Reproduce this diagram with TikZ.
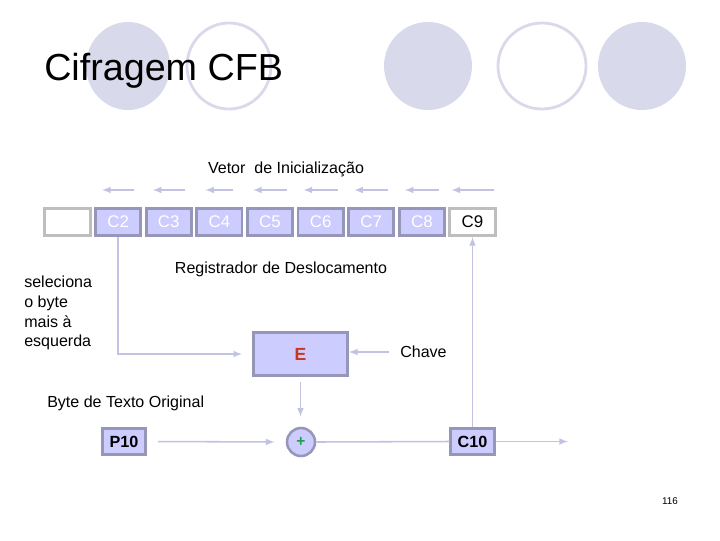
\documentclass[tikz,border=0pt]{standalone}
\usepackage{fontspec}
\setmainfont{Liberation Sans}
\usetikzlibrary{calc,positioning,arrows}
\definecolor{lavfill}{HTML}{CCCCFF}
\definecolor{lavline}{HTML}{9696B9}
\definecolor{decofill}{HTML}{D9D9EC}
\definecolor{flowcol}{HTML}{C2C2E2}
\definecolor{grayline}{HTML}{BEBEBE}
\definecolor{ered}{HTML}{C8371E}
\definecolor{pgreen}{HTML}{1EA050}
\tikzset{
		reg/.style={draw=lavline,fill=lavfill,line width=2pt,minimum width=1.13cm,
			minimum height=0.68cm,inner sep=0pt,text=white,font=\fontsize{12}{14}\selectfont},
		regw/.style={reg,draw=grayline,fill=white,text=black},
		byteb/.style={reg,minimum width=1.08cm,minimum height=0.66cm,text=black,
			font=\fontsize{11.5}{14}\selectfont\bfseries},
		flow/.style={draw=flowcol,line width=1.1pt,-latex},
		lbl/.style={inner sep=0pt,font=\fontsize{11.4}{14}\selectfont},
		}

\begin{document}
\begin{tikzpicture}[x=0.025cm,y=-0.025cm]
					\useasboundingbox (0,0) rectangle (720,540);
					%DECORATION
					\fill[decofill] (128,66) ellipse (42 and 44);
					\draw[decofill,line width=2pt] (229,66) ellipse (42 and 43);
					\fill[decofill] (428,66) ellipse (44 and 44);
					\draw[decofill,line width=2pt] (542,66) ellipse (44 and 43);
					\fill[decofill] (642,66) ellipse (44 and 44);
					\node[anchor=base west,inner sep=0pt,font=\fontsize{26.8}{30}\selectfont] (title) at (44,80) {Cifragem CFB};
					%REGISTER
					\node[lbl,anchor=base] (iv) at (286,173) {Vetor \ de Inicialização};
					\node[regw] (blank) at (67.5,222) {};
					\node[reg] (c2) [right=0.065cm of blank] {C2};
					\node[reg] (c3) [right=0.065cm of c2] {C3};
					\node[reg] (c4) [right=0.065cm of c3] {C4};
					\node[reg] (c5) [right=0.065cm of c4] {C5};
					\node[reg] (c6) [right=0.065cm of c5] {C6};
					\node[reg] (c7) [right=0.065cm of c6] {C7};
					\node[reg] (c8) [right=0.065cm of c7] {C8};
					\node[regw] (c9) [right=0.065cm of c8] {C9};
					\foreach \n/\w in {c2/16,c3/16,c4/14,c5/17,c6/17,c7/17,c8/17,c9/21}
						\draw[flow] ($(\n.north)+(\w,-17)$) -- ($(\n.north)+(-\w,-17)$);
					\node[lbl,anchor=base] (shift) at (281,273) {Registrador de Deslocamento};
					\node[lbl,anchor=north west,align=left] (sel) at (24,276) {seleciona\\o byte\\mais à\\esquerda};
					%CIPHER
					\node[reg,minimum width=2.35cm,minimum height=1.08cm,text=ered,font=\fontsize{12.5}{14}\selectfont\bfseries] (e) at (300.5,354) {E};
					\node[lbl,anchor=west] (chave) at (400,352) {Chave};
					\node[lbl,anchor=base west] (plain) at (47,407) {Byte de Texto Original};
					\node[byteb] (p10) at (124,441.5) {P10};
					\node[draw=lavline,fill=lavfill,line width=1.8pt,circle,minimum size=0.7cm,inner sep=0pt,
						text=pgreen,font=\fontsize{11}{12}\selectfont\bfseries] (xor) at (301,442) {\raisebox{-1.2pt}{+}};
					\node[byteb] (c10) at (472.5,441.5) {C10};
					\coordinate (out) at (568,441.5);
					%PATHS
					\draw[flow,shorten >=0.25cm] (c2.south) |- (e.west);
					\draw[flow,shorten <=0.28cm] (chave.west) -- (e.east |- chave.west);
					\draw[flow,shorten <=0.12cm,shorten >=0.25cm] (e.south) -- (e.south |- xor.north);
					\draw[flow,shorten <=0.28cm,shorten >=0.28cm] (p10.east) -- (xor.west);
					\draw[draw=flowcol,line width=1.1pt] (xor.east) -- (c10.west);
					\draw[flow] (c10.north) -- (c10.north |- c9.south);
					\draw[flow] (c10.east) -- (out);
					\node[inner sep=0pt,anchor=base,font=\fontsize{7}{8}\selectfont] (page) at (670,504) {116};
				\end{tikzpicture}
\end{document}
